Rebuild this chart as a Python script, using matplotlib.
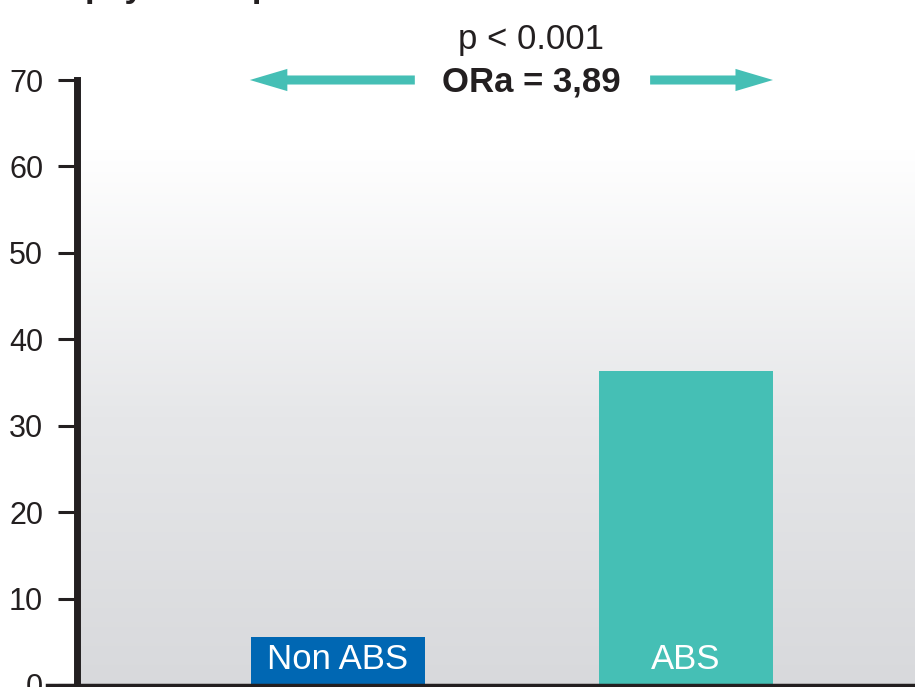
import numpy as np
import matplotlib
matplotlib.use('Agg')
import matplotlib.pyplot as plt
from matplotlib.colors import LinearSegmentedColormap

# data
groups = ['Non ABS', 'ABS']
values = [5.6, 36.3]
bar_colors = ['#0067b3', '#45bfb5']
yticks = [0, 10, 20, 30, 40, 50, 60, 70]
p_text = 'p < 0.001'
or_text = 'ORa = 3,89'

plt.rcParams['font.family'] = ['Liberation Sans', 'DejaVu Sans']
ink = '#231f20'

fig = plt.figure(figsize=(9.15, 6.87), dpi=100)
ax = fig.add_axes([76.5 / 915, 2 / 687, 1 - 76.5 / 915, 605 / 687])
ax.set_xlim(-0.751, 1.658)
ax.set_ylim(0, 70)

# background gradient, white at top fading to light grey
grad = np.linspace(0, 1, 256).reshape(-1, 1)
cmap = LinearSegmentedColormap.from_list('bg', ['#d8d9dc', '#e6e7e9', '#ffffff'])
ax.imshow(grad, extent=[-0.751, 1.658, 0, 62], origin='lower', aspect='auto',
          cmap=cmap, zorder=0)

x = np.arange(len(groups))
bars = ax.bar(x, values, width=0.5, color=bar_colors, zorder=2)
for b, lab in zip(bars, groups):
    ax.text(b.get_x() + b.get_width() / 2, 2.9, lab, ha='center', va='center',
            color='white', fontsize=25, zorder=3)

# spines and ticks
for s in ['top', 'right', 'bottom']:
    ax.spines[s].set_visible(False)
ax.spines['left'].set_linewidth(5)
ax.spines['left'].set_color(ink)
ax.set_yticks(yticks)
ax.tick_params(axis='y', length=14, width=2.2, color=ink, labelsize=22,
               labelcolor=ink, pad=10)
ax.set_xticks([])
ax.plot([-29.5 / 838.5, 1], [0, 0], transform=ax.transAxes, color=ink,
        lw=2.5, clip_on=False, zorder=4)

# annotation: p value and adjusted odds ratio with arrows
mid = 0.556
ax.text(mid, 74.7, p_text, ha='center', va='center', fontsize=25, color=ink)
ax.text(mid, 69.8, or_text, ha='center', va='center', fontsize=25,
        fontweight='bold', color=ink)
astyle = dict(arrowstyle='simple,head_length=2.7,head_width=1.6,tail_width=0.65',
              fc='#45bfb5', ec='none', lw=0, shrinkA=0, shrinkB=0,
              mutation_scale=10)
ax.annotate('', xy=(-0.253, 70), xytext=(0.221, 70), arrowprops=astyle,
            annotation_clip=False)
ax.annotate('', xy=(1.25, 70), xytext=(0.897, 70), arrowprops=astyle,
            annotation_clip=False)

# title cut off at the top of the picture
fig.text(85 / 915, 1 + 3.5 / 687, 'psychotropes', ha='left', va='baseline',
         fontsize=25, fontweight='bold', color=ink)

fig.savefig('out.png', dpi=100)
